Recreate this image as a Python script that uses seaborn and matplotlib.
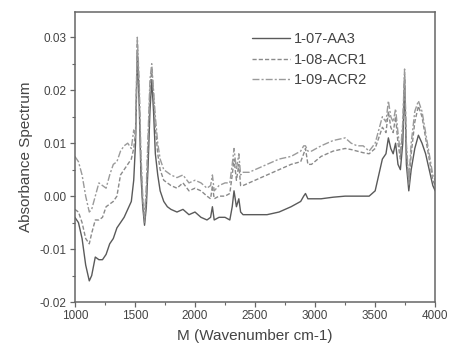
import numpy as np
import pandas as pd
import matplotlib
matplotlib.use('Agg')
import matplotlib.pyplot as plt
import seaborn as sns
from matplotlib.ticker import MultipleLocator

# wavenumber grid (cm-1) and absorbance
wavenumber = [1000, 1030, 1060, 1090, 1120, 1140, 1170, 1200, 1230, 1260, 1290, 1320,
              1350, 1380, 1410, 1440, 1470, 1490, 1505, 1520, 1535, 1550, 1565, 1580,
              1595, 1610, 1625, 1640, 1655, 1670, 1690, 1710, 1740, 1770, 1800, 1850,
              1900, 1950, 2000, 2050, 2100, 2130, 2145, 2160, 2200, 2250, 2290, 2310,
              2325, 2345, 2365, 2380, 2400, 2450, 2500, 2600, 2700, 2800, 2880, 2905,
              2920, 2940, 2970, 3050, 3150, 3250, 3300, 3350, 3400, 3450, 3500, 3530,
              3560, 3590, 3610, 3630, 3650, 3670, 3690, 3710, 3730, 3745, 3760, 3780,
              3800, 3830, 3860, 3890, 3920, 3950, 3980, 4000]

aa3 = [-0.004, -0.005, -0.008, -0.013, -0.016, -0.015, -0.0115, -0.012, -0.012, -0.011,
       -0.009, -0.008, -0.006, -0.005, -0.004, -0.0025, -0.001, 0.003, 0.010, 0.027,
       0.018, 0.004, -0.002, -0.0055, -0.002, 0.006, 0.016, 0.022, 0.016, 0.008,
       0.004, 0.001, -0.001, -0.002, -0.0025, -0.003, -0.0025, -0.0035, -0.003, -0.004,
       -0.0045, -0.004, -0.002, -0.0045, -0.004, -0.004, -0.0045, -0.002, 0.001, -0.002,
       -0.0005, -0.003, -0.0035, -0.0035, -0.0035, -0.0035, -0.003, -0.002, -0.001, 0.000,
       0.0005, -0.0005, -0.0005, -0.0005, -0.0002, 0.0, 0.0, 0.0, 0.0, 0.0,
       0.001, 0.004, 0.007, 0.008, 0.011, 0.009, 0.008, 0.010, 0.006, 0.005,
       0.010, 0.022, 0.006, 0.001, 0.005, 0.009, 0.0115, 0.010, 0.008, 0.005,
       0.002, 0.001]

acr1 = [-0.0025, -0.003, -0.005, -0.008, -0.009, -0.007, -0.0045, -0.0045, -0.004, -0.002,
        -0.0015, -0.001, 0.0, 0.004, 0.005, 0.006, 0.007, 0.009, 0.012, 0.029,
        0.020, 0.006, -0.001, -0.005, 0.000, 0.010, 0.020, 0.024, 0.019, 0.013,
        0.008, 0.005, 0.003, 0.0025, 0.002, 0.0015, 0.0025, 0.001, 0.0015, 0.001,
        0.000, -0.0005, 0.002, -0.0005, 0.0, 0.0, 0.0005, 0.004, 0.007, 0.003,
        0.006, 0.002, 0.002, 0.0025, 0.003, 0.004, 0.005, 0.006, 0.0065, 0.008,
        0.009, 0.006, 0.006, 0.0075, 0.0085, 0.009, 0.0088, 0.0085, 0.0082, 0.008,
        0.009, 0.011, 0.013, 0.012, 0.016, 0.013, 0.012, 0.015, 0.010, 0.007,
        0.013, 0.023, 0.009, 0.002, 0.008, 0.014, 0.017, 0.015, 0.011, 0.007,
        0.003, 0.002]

acr2 = [0.0075, 0.0065, 0.004, 0.000, -0.003, -0.0025, 0.000, 0.0025, 0.002, 0.0015,
        0.004, 0.006, 0.0065, 0.0085, 0.0095, 0.010, 0.009, 0.0125, 0.011, 0.030,
        0.022, 0.008, 0.000, -0.004, 0.002, 0.012, 0.022, 0.025, 0.020, 0.015,
        0.010, 0.007, 0.005, 0.0045, 0.004, 0.0035, 0.004, 0.0025, 0.003, 0.0025,
        0.0015, 0.002, 0.004, 0.001, 0.002, 0.0025, 0.0025, 0.006, 0.009, 0.005,
        0.008, 0.004, 0.0045, 0.0045, 0.005, 0.006, 0.007, 0.0075, 0.0085, 0.0095,
        0.0095, 0.0085, 0.0085, 0.0095, 0.0105, 0.011, 0.010, 0.0095, 0.0095, 0.0085,
        0.010, 0.0125, 0.015, 0.014, 0.018, 0.015, 0.014, 0.0165, 0.012, 0.008,
        0.014, 0.024, 0.010, 0.003, 0.010, 0.016, 0.018, 0.016, 0.012, 0.008,
        0.004, 0.003]

labels = ['1-07-AA3', '1-08-ACR1', '1-09-ACR2']

sns.set_style('ticks')
plt.rcParams['font.family'] = ['Liberation Sans', 'DejaVu Sans']

fig = plt.figure(figsize=(4.51, 3.48), dpi=100)
ax = fig.add_axes([0.166, 0.132, 0.799, 0.834])

styles = [dict(color='#5a5a5a', ls='-'),
          dict(color='#8a8a8a', ls=(0, (3, 1.5))),
          dict(color='#9a9a9a', ls=(0, (5, 1.5, 1.5, 1.5)))]
for y, lab, st in zip([aa3, acr1, acr2], labels, styles):
    sns.lineplot(x=wavenumber, y=y, ax=ax, label=lab, lw=1.0, **st)

ax.set_xlim(1000, 4000)
ax.set_ylim(-0.02, 0.0348)
ax.xaxis.set_major_locator(MultipleLocator(500))
ax.xaxis.set_minor_locator(MultipleLocator(250))
ax.yaxis.set_major_locator(MultipleLocator(0.01))
ax.yaxis.set_minor_locator(MultipleLocator(0.005))
ax.set_yticks([-0.02, -0.01, 0.0, 0.01, 0.02, 0.03])
ax.set_yticklabels(['-0.02', '-0.01', '0.00', '0.01', '0.02', '0.03'])
ax.tick_params(which='major', length=3.5, width=0.9, color='#666666',
               labelsize=8.5, labelcolor='#444444', direction='out', pad=2.5)
ax.tick_params(which='minor', length=2, width=0.8, color='#666666', direction='out')
for s in ax.spines.values():
    s.set_color('#666666')
    s.set_linewidth(1.1)
    s.set_visible(True)

ax.set_xlabel('M (Wavenumber cm-1)', fontsize=11, color='#444444', labelpad=5)
ax.set_ylabel('Absorbance Spectrum', fontsize=11, color='#444444', labelpad=5)

leg = ax.legend(loc='upper left', bbox_to_anchor=(0.455, 0.975), frameon=False,
                fontsize=10.5, handlelength=2.6, labelspacing=0.45, handletextpad=0.3)
for t in leg.get_texts():
    t.set_color('#444444')

fig.savefig('out.png', dpi=100)
